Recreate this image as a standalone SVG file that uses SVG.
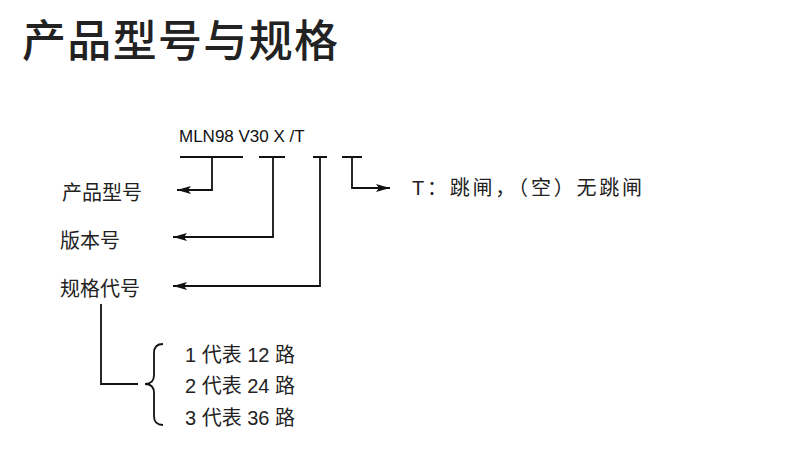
<svg xmlns="http://www.w3.org/2000/svg" width="790" height="473" viewBox="0 0 790 473">
<defs>
<style>
.cjk{font-family:"Liberation Sans","Noto Sans CJK SC",sans-serif;fill:#222;}
.ln{fill:none;stroke:#111;stroke-width:1.8;}
</style>
<marker id="ah" viewBox="0 0 14 8" refX="14" refY="4" markerWidth="14" markerHeight="8" markerUnits="userSpaceOnUse" orient="auto">
<path d="M0,0 L14,4 L0,8 L3,4 Z" fill="#111"/>
</marker>
</defs>
<rect width="790" height="473" fill="#fff"/>
<text x="22" y="57" class="cjk" font-size="44" font-weight="500" fill="#111" textLength="316" lengthAdjust="spacing">产品型号与规格</text>
<g id="code"><text x="179" y="142" font-family="Liberation Sans, Arial, sans-serif" font-size="17" fill="#111">MLN98 V30 X /T</text></g>
<g id="n1"><text x="62" y="200" class="cjk" font-size="20">产品型号</text></g>
<g id="n2"><text x="60" y="248" class="cjk" font-size="20">版本号</text></g>
<g id="n3"><text x="60" y="296" class="cjk" font-size="20">规格代号</text></g>
<g id="n4"><text x="412" y="195" class="cjk" font-size="20" textLength="230" lengthAdjust="spacing">T：跳闸，（空）无跳闸</text></g>
<g id="n5" class="cjk" font-size="20">
<text x="185" y="362">1 代表 12 路</text>
<text x="185" y="393">2 代表 24 路</text>
<text x="185" y="425">3 代表 36 路</text>
</g>
<g id="connectors">
<path class="ln" d="M180,157 H243 M212,157 V190 H177" marker-end="url(#ah)"/>
<path class="ln" d="M259,157 H285 M273,157 V237 H173" marker-end="url(#ah)"/>
<path class="ln" d="M313,157 H327 M320,157 V286 H173" marker-end="url(#ah)"/>
<path class="ln" d="M342,157 H362 M352,157 V188 H390" marker-end="url(#ah)"/>
<path class="ln" d="M101,304 V384 H138"/>
<path class="ln" d="M163,344 Q154,344 154,353 V375 Q154,384 145,384 Q154,384 154,393 V416 Q154,425 163,425"/>
</g>
</svg>
